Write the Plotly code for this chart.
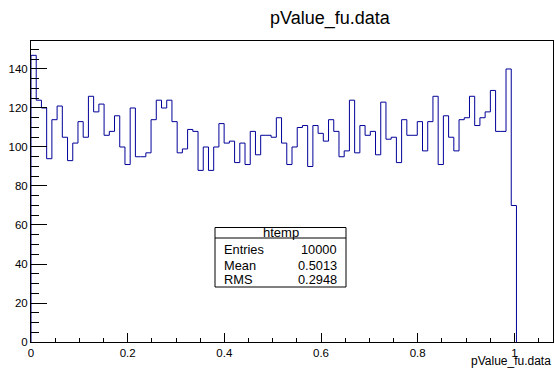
import numpy as np
import plotly.graph_objects as go

# ---- data ----
x_min, x_max, n_bins = 0.0, 1.08, 100
counts = [147, 124, 120, 94, 114, 121, 105, 93, 102, 113,
          105, 126, 118, 122, 106, 108, 116, 100, 91, 120,
          95, 95, 97, 114, 124, 120, 124, 113, 97, 99,
          109, 108, 88, 100, 88, 100, 112, 102, 103, 92,
          102, 91, 108, 96, 106, 106, 105, 115, 102, 91,
          100, 110, 111, 90, 111, 107, 103, 114, 108, 95,
          98, 124, 97, 111, 106, 108, 96, 123, 104, 105,
          92, 114, 106, 106, 113, 98, 113, 126, 91, 116,
          105, 98, 114, 115, 126, 111, 115, 118, 129, 108,
          108, 140, 70]
x_ticks = [0, 0.2, 0.4, 0.6, 0.8, 1]
x_tick_labels = ["0", "0.2", "0.4", "0.6", "0.8", "1"]
y_ticks = [0, 20, 40, 60, 80, 100, 120, 140]
stats_name = "htemp"
stats_labels = ["Entries", "Mean", "RMS"]
stats_values = ["10000", "0.5013", "0.2948"]
title_text = "pValue_fu.data"

# ---- geometry (canvas pixels) ----
W, H = 555, 368
ML, MR, MT, MB = 31, 2, 41, 26
PW, PH = W - ML - MR, H - MT - MB


def px(x):
    return (x - ML) / PW


def py(y):
    return (H - MB - y) / PH


edges = np.linspace(x_min, x_max, n_bins + 1)
n = len(counts)
xs = np.concatenate([[edges[0]], edges[:n], [edges[n]]])
ys = np.concatenate([[0], counts, [0]])

line_col = "#000099"
font_fam = "Liberation Sans, Arial, Helvetica, sans-serif"

fig = go.Figure()
fig.add_trace(go.Scatter(x=xs, y=ys, mode="lines", line_shape="hv",
                         line=dict(color=line_col, width=1),
                         hoverinfo="skip", showlegend=False))

ymax = 1.05 * max(counts)

fig.update_layout(
    width=W, height=H,
    margin=dict(l=ML, r=MR, t=MT, b=MB, pad=0, autoexpand=False),
    paper_bgcolor="white", plot_bgcolor="white",
    font=dict(family=font_fam, color="black", size=12),
    title=dict(text=title_text, x=330 / W, xanchor="center",
               y=1 - 18 / H, yanchor="middle",
               font=dict(size=18, family=font_fam)),
    xaxis=dict(range=[x_min, x_max], tickvals=x_ticks, ticktext=x_tick_labels,
               ticks="inside", ticklen=9, tickwidth=1, tickcolor="black",
               minor=dict(dtick=0.05, tick0=0, ticks="inside", ticklen=4,
                          tickcolor="black", tickwidth=1),
               showgrid=False, zeroline=False, showline=True, linecolor="black",
               linewidth=1, mirror=True, tickfont=dict(size=11.5),
               automargin=False),
    yaxis=dict(range=[0, ymax], tickvals=y_ticks,
               ticks="inside", ticklen=16, tickwidth=1, tickcolor="black",
               minor=dict(dtick=5, tick0=0, ticks="inside", ticklen=8,
                          tickcolor="black", tickwidth=1),
               showgrid=False, zeroline=False, showline=True, linecolor="black",
               linewidth=1, mirror=True, tickfont=dict(size=11.5),
               automargin=False),
)

# x axis title (right aligned, below axis)
fig.add_annotation(text=title_text, xref="paper", yref="paper",
                   x=px(553), y=py(361), xanchor="right", yanchor="middle",
                   showarrow=False, font=dict(size=12))

# stats box
bx0, bx1, by0, by1, bdiv = 215, 346, 287, 227.5, 238
fig.add_shape(type="rect", xref="paper", yref="paper",
              x0=px(bx0), x1=px(bx1), y0=py(by0), y1=py(by1),
              line=dict(color="black", width=1), fillcolor="white", layer="above")
fig.add_shape(type="line", xref="paper", yref="paper",
              x0=px(bx0), x1=px(bx1), y0=py(bdiv), y1=py(bdiv),
              line=dict(color="black", width=1), layer="above")
fig.add_annotation(text=stats_name, xref="paper", yref="paper",
                   x=px((bx0 + bx1) / 2), y=py(232.5), xanchor="center",
                   yanchor="middle", showarrow=False, font=dict(size=13))
row_y = [249.5, 265.5, 279.5]
for lab, val, ry in zip(stats_labels, stats_values, row_y):
    fig.add_annotation(text=lab, xref="paper", yref="paper", x=px(221.5), y=py(ry),
                       xanchor="left", yanchor="middle", showarrow=False,
                       font=dict(size=12.8))
    fig.add_annotation(text=val, xref="paper", yref="paper", x=px(339), y=py(ry),
                       xanchor="right", yanchor="middle", showarrow=False,
                       font=dict(size=12.8))

fig.write_html("out.html",
               config={"displayModeBar": False},
               post_script="document.body.style.margin='0px';"
                           "document.body.style.overflow='hidden';")
